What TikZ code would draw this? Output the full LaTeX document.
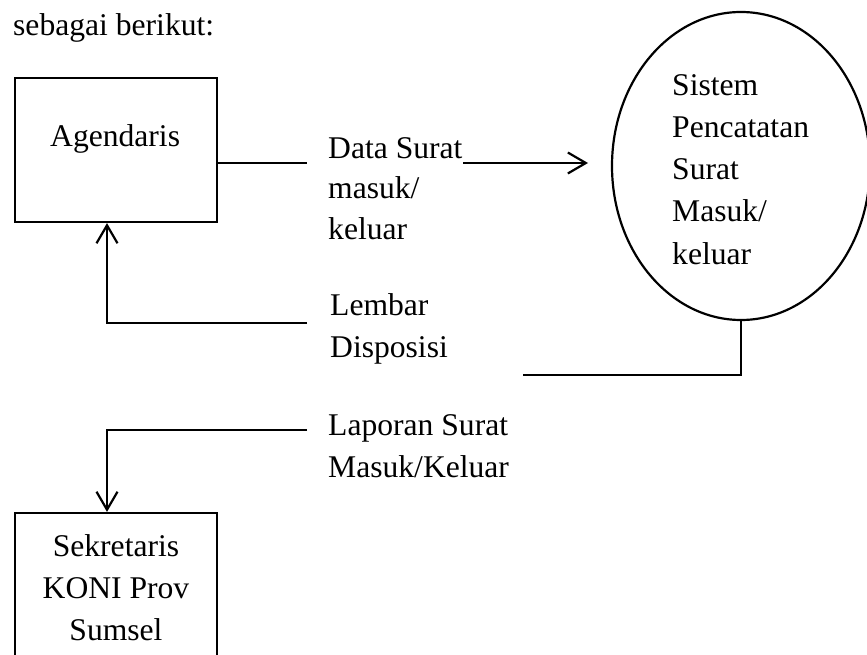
\documentclass[tikz,border=0pt]{standalone}
\usepackage{fontspec}
\setmainfont{Liberation Serif}
\usetikzlibrary{arrows.meta,shapes.geometric}
\begin{document}
\begin{tikzpicture}[x=1pt,y=-1pt,
  lbl/.style={anchor=base west,inner sep=0,font=\fontsize{31.6}{42}\selectfont},
  clbl/.style={anchor=base,inner sep=0,font=\fontsize{31.6}{42}\selectfont},
  boxnode/.style={draw,line width=2.2pt,rectangle,minimum width=202pt,inner sep=0},
  flow/.style={line width=2.2pt},
  tip/.style={flow,-{Straight Barb[length=18pt,width=21pt,line width=2.2pt]}}]
\useasboundingbox (0,0) rectangle (867,655);
\clip (0,0) rectangle (867,655);
% intro text
\node[lbl] (intro) at (13,36) {sebagai berikut:};
% entities
\node[boxnode,minimum height=144pt] (agd) at (116,150) {};
\node[lbl] (agdtxt) at (50,147) {Agendaris};
\node[boxnode,minimum height=170pt] (sek) at (116,598) {};
\node[clbl] (sek1) at (116,556) {Sekretaris};
\node[clbl] (sek2) at (116,598) {KONI Prov};
\node[clbl] (sek3) at (116,640) {Sumsel};
% process
\node[draw,line width=2.2pt,ellipse,minimum width=258pt,minimum height=308pt,inner sep=0] (sys) at (741,166) {};
\node[lbl] (s1) at (672,96) {Sistem};
\node[lbl] (s2) at (672,138) {Pencatatan};
\node[lbl] (s3) at (672,180) {Surat};
\node[lbl] (s4) at (672,222) {Masuk/};
\node[lbl] (s5) at (672,264) {keluar};
% flow labels
\node[lbl] (ds1) at (328,159) {Data Surat};
\node[lbl] (ds2) at (328,199) {masuk/};
\node[lbl] (ds3) at (328,239) {keluar};
\node[lbl] (lb1) at (330,315) {Lembar};
\node[lbl] (lb2) at (330,357) {Disposisi};
\node[lbl] (lp1) at (328,435) {Laporan Surat};
\node[lbl] (lp2) at (328,477) {Masuk/Keluar};
% coordinates
\coordinate (a1) at (307,163);
\coordinate (a2) at (463,163);
\coordinate (a3) at (588,163);
\coordinate (l1) at (307,323);
\coordinate (l2) at (107,323);
\coordinate (d1) at (523,375);
\coordinate (p1) at (307,430);
\coordinate (p2) at (107,430);
% connectors
\draw[flow] (agd.east |- a1) -- (a1);
\draw[tip] (a2) -- (a3);
\draw[tip] (l1) -- (l2) -- (l2 |- agd.south);
\draw[flow] (sys.south) |- (d1);
\draw[tip] (p1) -- (p2) -- (p2 |- sek.north);
\end{tikzpicture}
\end{document}
